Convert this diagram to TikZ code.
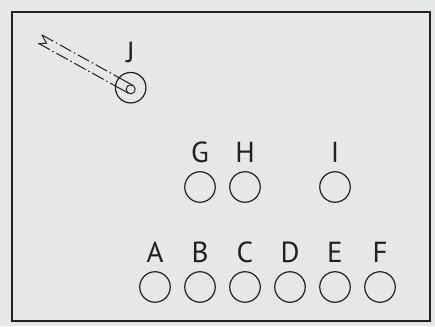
\documentclass[tikz,border=0pt]{standalone}
\usepackage{fontspec}
\setmainfont{PT Sans}
\usetikzlibrary{positioning}
\definecolor{paper}{HTML}{E6E7E8}
\definecolor{ink}{HTML}{231F20}
\begin{document}
\begin{tikzpicture}[x=1pt, y=1pt,
    seat/.style={circle, draw=ink, line width=1.2pt, minimum size=30.5pt, inner sep=0pt},
    letter/.style={inner sep=0pt, text=ink, text depth=0pt, font=\fontsize{29}{29}\selectfont},
    pipe/.style={draw=ink, line width=1pt},
    centre/.style={dash pattern=on 13pt off 3pt on 1.5pt off 3pt}]
    \fill[paper] (0,0) rectangle (435,326);
    \draw[ink, line width=1.5pt] (12,5) rectangle (430,314);
    % front row
    \node[seat] (a) at (155,39) {};
    \node[letter, above=8.5pt of a] (la) {A};
    \node[seat] (b) at (200,39) {};
    \node[letter, above=8.5pt of b] (lb) {B};
    \node[seat] (c) at (245,39) {};
    \node[letter, above=8.5pt of c] (lc) {C};
    \node[seat] (d) at (290,39) {};
    \node[letter, above=8.5pt of d] (ld) {D};
    \node[seat] (e) at (335,39) {};
    \node[letter, above=8.5pt of e] (le) {E};
    \node[seat] (f) at (380,39) {};
    \node[letter, above=8.5pt of f] (lf) {F};
    % middle row
    \node[seat] (g) at (200,139) {};
    \node[letter, above=8.5pt of g] (lg) {G};
    \node[seat] (h) at (245,139) {};
    \node[letter, above=8.5pt of h] (lh) {H};
    \node[seat] (i) at (335,139) {};
    \node[letter, above=8.5pt of i] (li) {I};
    % J with its pipe
    \node[seat] (j) at (130.7,238.3) {};
    \node[letter, above=9.5pt of j] (lj) {J};
    \node[circle, draw=ink, line width=1pt, minimum size=9pt, inner sep=0pt] (k) at (130.7,236.7) {};
    \begin{scope}[shift={(k.center)}, rotate=151]
        \draw[pipe] (0,4.5) -- (18,4.5);
        \draw[pipe] (0,-4.5) -- (18,-4.5);
        \draw[pipe, centre] (104,-4.5) -- (18,-4.5);
        \draw[pipe, centre] (103,4.5) -- (18,4.5);
        \draw[pipe] (104,-4.5) -- (96,0.5) -- (103,5);
    \end{scope}
\end{tikzpicture}
\end{document}
